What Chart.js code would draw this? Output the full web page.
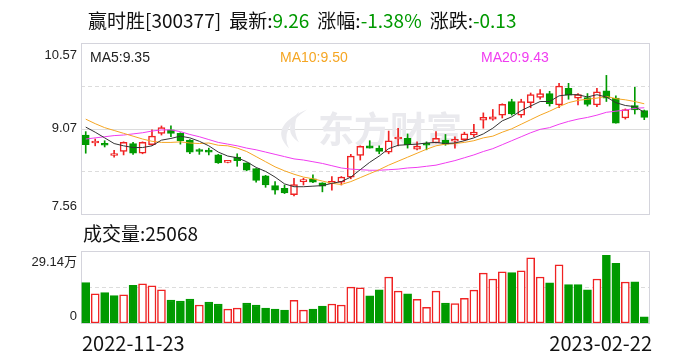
<!DOCTYPE html>
<html lang="zh-CN">
<head>
<meta charset="utf-8">
<title>赢时胜 K线</title>
<script src="https://cdn.jsdelivr.net/npm/chart.js@4.4.1/dist/chart.umd.min.js"></script>
<style>
  html, body { margin: 0; padding: 0; background: #fff; }
  #wrap { position: relative; width: 688px; height: 360px; overflow: hidden;
          font-family: "Noto Sans CJK SC", "Noto Sans", sans-serif; color: #111; }
  #kline { position: absolute; left: 0; top: 0; }
  #vol { position: absolute; left: 0; top: 230px; }
  .txt { position: absolute; white-space: nowrap; }
  #title { left: 88px; top: 8px; font-size: 19px; line-height: 24px; }
  #title .g { color: #009900; }
  #title .sp { margin-left: 8px; }
  .ma { top: 49px; font: 14px "Liberation Sans", Arial, sans-serif; line-height: 16px; }
  #volTitle { left: 83px; top: 221px; font-size: 19px; line-height: 24px; }
  .date { top: 331px; font-size: 20px; line-height: 24px; }
</style>
</head>
<body>
<div id="wrap">
  <canvas id="kline" width="688" height="230"></canvas>
  <canvas id="vol" width="688" height="130"></canvas>
  <div id="title" class="txt">赢时胜[300377]<span class="sp">最新:</span><span class="g">9.26</span><span class="sp">涨幅:</span><span class="g">-1.38%</span><span class="sp">涨跌:</span><span class="g">-0.13</span></div>
  <div class="txt ma" style="left:90px;color:#222">MA5:9.35</div>
  <div class="txt ma" style="left:280px;color:#f5a623">MA10:9.50</div>
  <div class="txt ma" style="left:481px;color:#f03cf0">MA20:9.43</div>
  <div id="volTitle" class="txt">成交量:25068</div>
  <div class="txt date" id="dateFirst" style="left:82px"></div>
  <div class="txt date" id="dateLast" style="right:36px"></div>
</div>
<script>
// ---- data ----
const dates = [
  '2022-11-23','2022-11-24','2022-11-25','2022-11-28','2022-11-29','2022-11-30',
  '2022-12-01','2022-12-02','2022-12-05','2022-12-06','2022-12-07','2022-12-08','2022-12-09',
  '2022-12-12','2022-12-13','2022-12-14','2022-12-15','2022-12-16','2022-12-19','2022-12-20',
  '2022-12-21','2022-12-22','2022-12-23','2022-12-26','2022-12-27','2022-12-28','2022-12-29','2022-12-30',
  '2023-01-03','2023-01-04','2023-01-05','2023-01-06','2023-01-09','2023-01-10','2023-01-11',
  '2023-01-12','2023-01-13','2023-01-16','2023-01-17','2023-01-18','2023-01-19','2023-01-20',
  '2023-01-30','2023-01-31','2023-02-01','2023-02-02','2023-02-03','2023-02-06','2023-02-07',
  '2023-02-08','2023-02-09','2023-02-10','2023-02-13','2023-02-14','2023-02-15','2023-02-16',
  '2023-02-17','2023-02-20','2023-02-21','2023-02-22'
];
const open = [
  8.95, 8.81, 8.79, 8.59, 8.66, 8.80, 8.63, 8.78, 8.98, 9.04,
  8.98, 8.86, 8.67, 8.66, 8.60, 8.47, 8.56, 8.46, 8.36, 8.23,
  8.06, 8.01, 7.90, 8.13, 8.18, 8.11, 8.10, 8.12, 8.21, 8.59,
  8.76, 8.72, 8.65, 8.88, 8.89, 8.70, 8.78, 8.81, 8.86, 8.84,
  8.87, 8.95, 9.21, 9.23, 9.30, 9.54, 9.30, 9.52, 9.61, 9.68,
  9.48, 9.77, 9.60, 9.61, 9.48, 9.73, 9.60, 9.25, 9.47, 9.38
];
const high = [
  9.01, 8.88, 8.85, 8.68, 8.83, 8.82, 8.83, 9.04, 9.11, 9.11,
  8.99, 8.87, 8.71, 8.72, 8.61, 8.50, 8.62, 8.46, 8.36, 8.24,
  8.13, 8.07, 8.19, 8.19, 8.25, 8.11, 8.22, 8.22, 8.61, 8.76,
  8.85, 8.76, 9.02, 9.07, 8.97, 8.83, 8.83, 9.01, 8.96, 8.92,
  9.00, 9.14, 9.34, 9.40, 9.50, 9.58, 9.58, 9.69, 9.75, 9.72,
  9.86, 9.86, 9.68, 9.68, 9.77, 10.00, 9.64, 9.41, 9.79, 9.39
];
const low = [
  8.63, 8.76, 8.74, 8.56, 8.60, 8.61, 8.62, 8.77, 8.95, 8.92,
  8.79, 8.62, 8.61, 8.60, 8.45, 8.46, 8.40, 8.32, 8.12, 8.03,
  7.91, 7.92, 7.88, 8.07, 8.11, 7.95, 7.98, 8.07, 8.18, 8.51,
  8.72, 8.62, 8.62, 8.76, 8.72, 8.69, 8.69, 8.81, 8.77, 8.72,
  8.85, 8.92, 9.07, 9.21, 9.25, 9.30, 9.26, 9.43, 9.58, 9.46,
  9.43, 9.58, 9.48, 9.46, 9.45, 9.54, 9.16, 9.23, 9.32, 9.22
];
const close = [
  8.78, 8.82, 8.77, 8.60, 8.82, 8.63, 8.82, 8.93, 9.08, 8.98,
  8.85, 8.65, 8.66, 8.65, 8.46, 8.48, 8.50, 8.33, 8.15, 8.07,
  7.98, 7.93, 8.08, 8.14, 8.12, 8.05, 8.11, 8.21, 8.58, 8.75,
  8.72, 8.66, 8.85, 8.89, 8.78, 8.75, 8.77, 8.89, 8.79, 8.85,
  8.97, 9.00, 9.26, 9.27, 9.49, 9.32, 9.54, 9.66, 9.68, 9.50,
  9.81, 9.65, 9.66, 9.49, 9.71, 9.60, 9.16, 9.40, 9.39, 9.26
];
const ma5 = [
  9.09, 9.00, 8.90, 8.80, 8.76, 8.73, 8.73, 8.76, 8.86, 8.89,
  8.93, 8.90, 8.84, 8.76, 8.65, 8.58, 8.55, 8.48, 8.38, 8.31,
  8.21, 8.09, 8.04, 8.04, 8.05, 8.06, 8.10, 8.13, 8.21, 8.34,
  8.47, 8.58, 8.71, 8.77, 8.78, 8.79, 8.81, 8.82, 8.80, 8.81,
  8.85, 8.90, 8.97, 9.07, 9.20, 9.27, 9.38, 9.46, 9.54, 9.54,
  9.64, 9.66, 9.66, 9.62, 9.66, 9.62, 9.52, 9.47, 9.45, 9.35
];
const ma10 = [
  9.23, 9.15, 9.08, 9.03, 8.98, 8.93, 8.88, 8.84, 8.82, 8.82,
  8.83, 8.81, 8.80, 8.81, 8.77, 8.76, 8.72, 8.66, 8.57, 8.48,
  8.39, 8.32, 8.26, 8.21, 8.18, 8.14, 8.10, 8.08, 8.13, 8.20,
  8.27, 8.34, 8.42, 8.49, 8.56, 8.63, 8.70, 8.76, 8.79, 8.80,
  8.82, 8.85, 8.90, 8.93, 9.00, 9.06, 9.14, 9.22, 9.30, 9.37,
  9.45, 9.52, 9.56, 9.58, 9.60, 9.63, 9.59, 9.57, 9.54, 9.50
];
const ma20 = [
  8.88, 8.90, 8.92, 8.94, 8.95, 8.97, 8.99, 9.02, 9.04, 9.04,
  9.01, 8.96, 8.92, 8.87, 8.82, 8.79, 8.76, 8.72, 8.69, 8.65,
  8.61, 8.57, 8.53, 8.51, 8.48, 8.45, 8.41, 8.37, 8.35, 8.34,
  8.33, 8.33, 8.34, 8.35, 8.37, 8.38, 8.40, 8.42, 8.46, 8.50,
  8.55, 8.60, 8.66, 8.71, 8.78, 8.85, 8.92, 8.99, 9.05, 9.08,
  9.14, 9.19, 9.23, 9.26, 9.30, 9.35, 9.37, 9.39, 9.42, 9.43
];
// volume in 万手, and whether the bar is drawn as "up" (red)
const volume = [
  16.4, 11.8, 12.3, 11.1, 11.4, 15.2, 15.9, 15.0, 13.4, 9.3,
  8.9, 9.7, 7.3, 8.5, 7.7, 5.6, 6.0, 8.1, 7.3, 6.0,
  5.6, 5.2, 9.2, 5.2, 5.6, 6.8, 7.7, 7.3, 14.5, 14.2,
  11.0, 13.4, 18.6, 12.9, 11.8, 9.6, 6.3, 12.9, 8.1, 7.9,
  10.0, 13.3, 20.2, 17.8, 20.7, 20.4, 21.1, 26.4, 18.6, 16.3,
  23.5, 15.5, 15.5, 13.4, 17.8, 27.4, 24.1, 16.6, 16.7, 2.51
];
const volUp = [
  0,1,0,0,1,0,1,1,1,0,
  0,0,1,0,0,1,1,0,0,0,
  0,0,1,1,0,0,1,1,1,1,
  0,0,1,1,0,1,1,1,0,1,
  1,1,1,1,1,0,1,1,1,0,
  1,0,0,0,1,0,0,1,0,0
];
const priceTicks = [7.56, 9.07, 10.57];
const volTicks = [0, 29.14];

// ---- style ----
const RED = '#f02222';
const GREEN = '#009a00';
const FRAME = '#d4d4dc';
const GRID = '#dcdcdc';
const LABEL_FONT = '13px "Liberation Sans", Arial, sans-serif';

document.getElementById('dateFirst').textContent = dates[0];
document.getElementById('dateLast').textContent = dates[dates.length - 1];

// frame, grid lines and watermark
const framePlugin = {
  id: 'frame',
  beforeDatasetsDraw(chart, args, opts) {
    const { ctx, chartArea: a } = chart;
    ctx.save();
    ctx.lineWidth = 1;
    // grid: fractions of the plot height
    (opts.grid || []).forEach(g => {
      const y = Math.round(a.top + (a.bottom - a.top) * g.at) + 0.5;
      ctx.strokeStyle = GRID;
      ctx.setLineDash(g.dashed ? [4, 3] : []);
      ctx.beginPath();
      ctx.moveTo(a.left, y);
      ctx.lineTo(a.right, y);
      ctx.stroke();
    });
    ctx.setLineDash([]);
    ctx.strokeStyle = FRAME;
    ctx.strokeRect(Math.round(a.left) + 0.5, Math.round(a.top) + 0.5,
                   Math.round(a.right - a.left), Math.round(a.bottom - a.top));

    if (opts.watermark) {
      const cx = (a.left + a.right) / 2, cy = (a.top + a.bottom) / 2;
      ctx.fillStyle = '#eaeaee';
      // logo swoosh
      ctx.beginPath();
      ctx.moveTo(cx - 58, cy - 19);
      ctx.quadraticCurveTo(cx - 98, cy - 2, cx - 76, cy + 20);
      ctx.quadraticCurveTo(cx - 86, cy, cx - 58, cy - 19);
      ctx.fill();
      ctx.beginPath();
      ctx.moveTo(cx - 66, cy - 17);
      ctx.quadraticCurveTo(cx - 84, cy + 2, cx - 66, cy + 14);
      ctx.quadraticCurveTo(cx - 74, cy, cx - 66, cy - 17);
      ctx.fill();
      ctx.font = 'bold 36px "Noto Sans CJK SC", sans-serif';
      ctx.textAlign = 'left';
      ctx.textBaseline = 'middle';
      ctx.fillText('东方财富', cx - 47, cy + 1);
    }
    ctx.restore();
  },
  afterDraw(chart, args, opts) {
    const { ctx, chartArea: a, scales: { y } } = chart;
    ctx.save();
    ctx.font = LABEL_FONT;
    ctx.fillStyle = '#222';
    ctx.textAlign = 'right';
    ctx.textBaseline = 'middle';
    const ticks = opts.ticks || [];
    ticks.forEach((v, i) => {
      let py = y.getPixelForValue(v);
      if (i === ticks.length - 1) py += opts.topShift;
      else if (i === 0) py -= opts.bottomShift;
      ctx.fillText(opts.format(v), a.left - 4, py);
    });
    ctx.restore();
  }
};

const up = close.map((c, i) => c >= open[i]);

new Chart(document.getElementById('kline'), {
  type: 'bar',
  data: {
    labels: dates,
    datasets: [
      { type: 'line', data: ma5, borderColor: '#333', borderWidth: 1, pointRadius: 0, tension: 0, order: 0 },
      { type: 'line', data: ma10, borderColor: '#f5a623', borderWidth: 1, pointRadius: 0, tension: 0, order: 0 },
      { type: 'line', data: ma20, borderColor: '#f03cf0', borderWidth: 1, pointRadius: 0, tension: 0, order: 0 },
      {
        data: open.map((o, i) => [o, close[i]]),
        backgroundColor: up.map(u => u ? '#fff' : GREEN),
        borderColor: up.map(u => u ? RED : GREEN),
        borderWidth: 1.5,
        borderSkipped: false,
        barThickness: 7,
        minBarLength: 2,
        grouped: false,
        order: 1
      },
      {
        data: low.map((l, i) => [l, high[i]]),
        backgroundColor: up.map(u => u ? RED : GREEN),
        barThickness: 1,
        minBarLength: 1,
        grouped: false,
        order: 2
      }
    ]
  },
  options: {
    responsive: false,
    animation: false,
    events: [],
    layout: { padding: { left: 81, right: 39, top: 43, bottom: 16 } },
    plugins: {
      legend: { display: false },
      tooltip: { enabled: false },
      frame: {
        grid: [{ at: 0.25, dashed: true }, { at: 0.5, dashed: false }, { at: 0.75, dashed: true }],
        watermark: true,
        ticks: priceTicks,
        topShift: 12,
        bottomShift: 8,
        format: v => v.toFixed(2)
      }
    },
    scales: {
      x: { display: false, offset: true },
      y: { display: false, min: priceTicks[0], max: priceTicks[priceTicks.length - 1] }
    }
  },
  plugins: [framePlugin]
});

new Chart(document.getElementById('vol'), {
  type: 'bar',
  data: {
    labels: dates,
    datasets: [{
      data: volume,
      backgroundColor: volUp.map(u => u ? '#fff' : GREEN),
      borderColor: volUp.map(u => u ? RED : GREEN),
      borderWidth: 1.5,
      borderSkipped: false,
      barThickness: 8
    }]
  },
  options: {
    responsive: false,
    animation: false,
    events: [],
    layout: { padding: { left: 81, right: 39, top: 21, bottom: 37 } },
    plugins: {
      legend: { display: false },
      tooltip: { enabled: false },
      frame: {
        grid: [{ at: 0.5, dashed: true }],
        ticks: volTicks,
        topShift: 11,
        bottomShift: 7,
        format: v => v === 0 ? '0' : v.toFixed(2) + '万'
      }
    },
    scales: {
      x: { display: false, offset: true },
      y: { display: false, min: volTicks[0], max: volTicks[volTicks.length - 1] }
    }
  },
  plugins: [framePlugin]
});
</script>
</body>
</html>
